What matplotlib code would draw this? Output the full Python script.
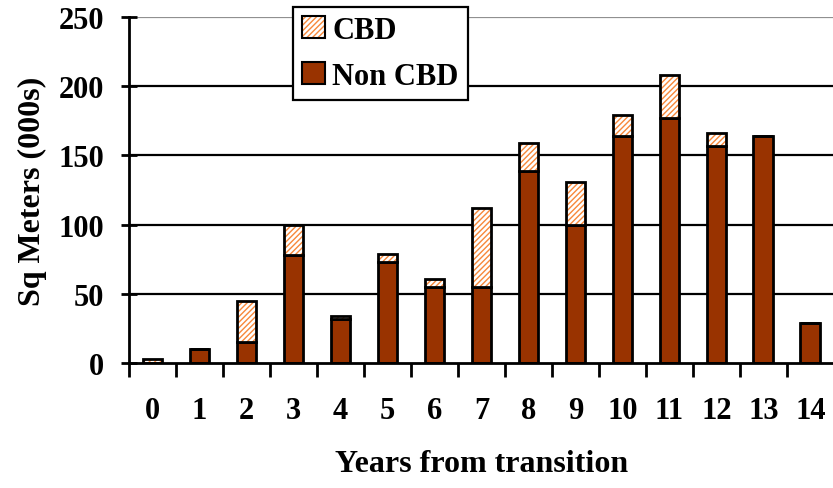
import matplotlib
matplotlib.use("Agg")
import matplotlib.pyplot as plt
from matplotlib.patches import Patch
from matplotlib.legend_handler import HandlerTuple
import numpy as np

years = ["0", "1", "2", "3", "4", "5", "6", "7", "8", "9", "10", "11", "12", "13", "14"]
non_cbd = [0, 10, 15, 78, 32, 73, 55, 55, 139, 100, 164, 177, 157, 164, 29]
cbd = [3, 0, 30, 22, 2, 6, 6, 57, 20, 31, 15, 31, 9, 0, 0]
yticks = [0, 50, 100, 150, 200, 250]

plt.rcParams['font.family'] = ['Liberation Serif', 'DejaVu Serif']
plt.rcParams['font.weight'] = 'bold'

fig = plt.figure(figsize=(8.33, 4.89), dpi=100)
ax = fig.add_axes([0.155, 0.2556, 0.846, 0.7074])

x = np.arange(len(years))
w = 0.42
brown = '#993300'
orange = '#F7883A'

ax.bar(x, non_cbd, width=w, color=brown, edgecolor='black', linewidth=2, zorder=3)
ax.bar(x, cbd, width=w, bottom=non_cbd, color='white', edgecolor=orange, hatch='//////',
       linewidth=0, zorder=3)
ax.bar(x, cbd, width=w, bottom=non_cbd, facecolor='none', edgecolor='black', linewidth=2, zorder=4)

ax.set_xlim(-0.5, len(years) - 0.5)
ax.set_ylim(0, 250)
ax.set_yticks(yticks)
for v in yticks[1:-1]:
    ax.axhline(v, color='black', linewidth=1.6, zorder=1)
ax.axhline(250, color='#909090', linewidth=1.6, zorder=1)

ax.set_xticks(x)
ax.set_xticklabels(years)
ax.set_xticks(np.arange(-0.5, len(years), 1.0), minor=True)
ax.tick_params(axis='x', which='major', length=0, pad=24, labelsize=22)
ax.tick_params(axis='x', which='minor', length=10, width=2, direction='out')
ax.tick_params(axis='y', which='major', length=12, width=2, direction='inout', pad=12, labelsize=22)

for s in ['top', 'right']:
    ax.spines[s].set_visible(False)
for s in ['left', 'bottom']:
    ax.spines[s].set_linewidth(2)
    ax.spines[s].set_zorder(5)

ax.set_ylabel('Sq Meters (000s)', fontsize=23, fontweight='bold', labelpad=8)
ax.set_xlabel('Years from transition', fontsize=23, fontweight='bold', labelpad=17)

h_cbd = (Patch(facecolor='white', edgecolor=orange, hatch='//////', linewidth=0),
         Patch(facecolor='none', edgecolor='black', linewidth=1.5))
h_non = Patch(facecolor=brown, edgecolor='black', linewidth=1.5)
leg = ax.legend([h_cbd, h_non], ['CBD', 'Non CBD'],
                handler_map={tuple: HandlerTuple(ndivide=1, pad=0)},
                loc='upper left', bbox_to_anchor=(0.232, 1.03), fontsize=22,
                frameon=True, fancybox=False, edgecolor='black', framealpha=1,
                handlelength=0.75, handleheight=0.75, handletextpad=0.25,
                labelspacing=0.55, borderpad=0.3, borderaxespad=0)
leg.get_frame().set_linewidth(1.6)
leg.set_zorder(10)

fig.savefig('out.png', dpi=100)
